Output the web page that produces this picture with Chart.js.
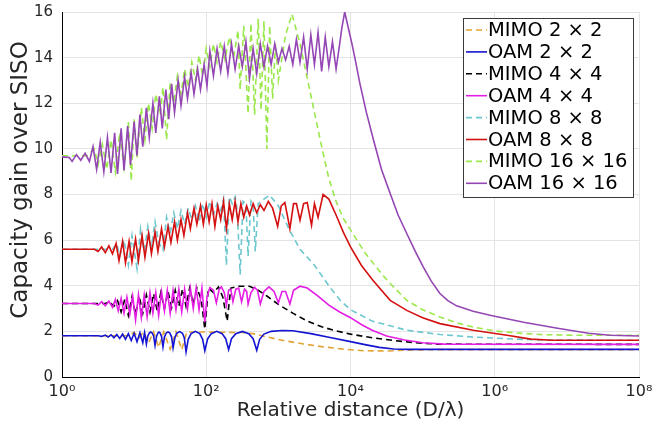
<!DOCTYPE html>
<html>
<head>
<meta charset="utf-8">
<script src="https://cdn.jsdelivr.net/npm/chart.js@4.4.1/dist/chart.umd.min.js"></script>
<style>
  html, body { margin: 0; padding: 0; background: #fff; }
  canvas { display: block; }
</style>
</head>
<body>
<canvas id="gainChart" width="652" height="433"></canvas>
<script>
// --- Data: [log10(D/lambda), capacity gain] ---
const xTickValues = [1, 1e2, 1e4, 1e6, 1e8];
const yTickStep = 2;

const mimo2x2 = [[0,1.81],[0.9,1.81],[0.95,1.88],[1.0,1.95],[1.07,1.72],[1.13,1.97],[1.2,1.5],[1.27,1.98],[1.34,1.3],[1.41,1.98],[1.5,1.22],[1.58,1.98],[1.66,1.2],[1.73,1.97],[2.0,1.97],[2.5,1.95],[2.65,1.9],[2.85,1.75],[3.1,1.58],[3.35,1.45],[3.6,1.33],[3.9,1.22],[4.2,1.15],[4.5,1.14],[4.8,1.18],[5.2,1.2],[8,1.2]];

const oam2x2 = [[0,1.81],[0.5,1.81],[0.55,1.78],[0.6,1.84],[0.64,1.75],[0.68,1.85],[0.72,1.72],[0.76,1.86],[0.8,1.69],[0.84,1.88],[0.88,1.65],[0.92,1.9],[0.96,1.6],[1.0,1.92],[1.04,1.55],[1.08,1.94],[1.12,1.5],[1.145,1.95],[1.17,1.45],
  [1.19,1.8],[1.21,1.93],[1.23,1.97],[1.25,1.93],[1.27,1.8],[1.29,1.38],
  [1.31,1.78],[1.33,1.93],[1.345,1.97],[1.36,1.93],[1.38,1.78],[1.40,1.32],
  [1.42,1.75],[1.445,1.93],[1.47,1.98],[1.495,1.93],[1.52,1.75],[1.54,1.28],
  [1.565,1.72],[1.59,1.92],[1.63,1.99],[1.67,1.92],[1.695,1.72],[1.72,1.1],
  [1.75,1.65],[1.79,1.9],[1.85,2.0],[1.91,1.9],[1.95,1.65],[1.98,1.15],
  [2.02,1.68],[2.07,1.9],[2.145,2.0],[2.22,1.9],[2.27,1.68],[2.31,1.2],
  [2.35,1.68],[2.41,1.9],[2.5,2.0],[2.59,1.9],[2.65,1.68],[2.70,1.17],
  [2.74,1.65],[2.8,1.88],[2.9,2.0],[3.05,2.04],[3.2,2.03],[3.45,1.9],[3.7,1.74],[4.0,1.55],[4.2,1.42],[4.4,1.3],[4.6,1.23],[4.8,1.21],[8,1.21]];

const mimo4x4 = [[0,3.22],[0.6,3.22],[0.66,3.3],[0.72,3.1],[0.77,3.35],[0.82,2.85],[0.87,3.4],[0.92,2.7],[0.97,3.5],[1.02,2.75],[1.07,3.55],[1.12,2.8],[1.17,3.6],[1.22,2.85],[1.27,3.65],[1.32,2.9],[1.37,3.7],[1.42,3.0],[1.47,3.75],[1.52,3.05],[1.57,3.8],[1.62,3.1],[1.67,3.85],[1.72,3.1],[1.77,3.9],[1.82,3.2],[1.87,3.9],[1.93,3.4],[1.98,2.1],[2.03,3.9],[2.1,3.7],[2.17,3.95],[2.23,3.5],[2.29,2.45],[2.34,3.9],[2.45,3.98],[2.6,3.98],[2.72,3.8],[2.84,3.55],[3.0,3.18],[3.2,2.8],[3.4,2.45],[3.6,2.2],[3.8,2.02],[4.0,1.88],[4.3,1.72],[4.6,1.6],[4.9,1.5],[5.2,1.44],[8,1.43]];

const oam4x4 = [[0,3.22],[0.45,3.22],[0.5,3.15],[0.55,3.3],[0.6,3.12],[0.65,3.32],[0.7,3.05],[0.74,3.4],[0.78,2.9],[0.82,3.45],[0.86,2.8],[0.9,3.5],[0.94,2.75],[0.98,3.55],[1.02,2.5],[1.06,3.6],[1.1,2.6],[1.14,3.6],[1.18,2.65],[1.22,3.7],[1.26,2.8],[1.3,3.7],[1.34,2.7],[1.38,3.75],[1.42,2.9],[1.46,3.8],[1.5,2.8],[1.54,3.8],[1.58,2.95],[1.62,3.85],[1.66,2.85],[1.7,3.85],[1.74,3.0],[1.78,3.9],[1.82,3.0],[1.86,3.9],[1.9,2.95],[1.94,3.9],[1.98,2.4],
  [2.01,3.5],[2.05,3.92],[2.1,3.8],[2.14,3.25],[2.18,3.85],[2.21,3.95],[2.25,3.7],[2.28,3.15],[2.31,3.8],[2.34,3.85],[2.37,3.3],[2.41,3.85],[2.45,3.9],[2.49,3.3],[2.53,3.85],[2.56,3.75],[2.58,3.2],[2.62,3.7],[2.67,3.93],[2.71,3.8],[2.75,3.2],[2.8,3.75],[2.87,3.95],[2.94,3.75],[3.0,3.25],[3.05,3.75],[3.1,3.75],[3.16,3.2],[3.21,3.8],[3.3,3.98],[3.4,3.9],[3.55,3.55],[3.7,3.15],[3.85,2.85],[4.0,2.6],[4.15,2.3],[4.3,2.05],[4.5,1.8],[4.75,1.62],[5.0,1.5],[5.3,1.44],[8,1.43]];

const mimo8x8 = [[0,5.6],[0.7,5.6],[0.76,5.85],[0.8,5.3],[0.86,6.0],[0.92,4.9],[0.97,6.2],[1.04,4.75],[1.09,6.5],[1.14,5.5],[1.19,6.6],[1.24,5.7],[1.29,6.8],[1.34,5.9],[1.4,5.56],[1.45,7.0],[1.5,6.3],[1.55,7.2],[1.6,6.5],[1.65,7.3],[1.7,6.7],[1.75,7.4],[1.8,6.9],[1.85,7.5],[1.9,6.8],[1.95,7.6],[2.0,7.0],[2.05,7.7],[2.1,7.1],[2.15,7.6],[2.2,7.3],[2.24,7.8],[2.28,4.9],[2.32,7.9],[2.36,7.6],[2.4,7.9],[2.43,7.3],[2.47,4.5],[2.51,7.7],[2.55,7.6],[2.58,5.3],[2.62,7.7],[2.65,7.5],[2.68,5.5],[2.72,7.6],[2.8,7.8],[2.88,7.97],[3.0,7.5],[3.16,6.4],[3.3,5.6],[3.5,4.9],[3.7,4.0],[3.86,3.35],[4.0,2.95],[4.3,2.45],[4.78,2.05],[5.24,1.86],[5.7,1.75],[6.17,1.68],[6.6,1.62],[8,1.61]];

const oam8x8 = [[0,5.6],[0.45,5.6],[0.5,5.5],[0.55,5.7],[0.6,5.45],[0.65,5.75],[0.7,5.4],[0.75,5.85],[0.79,5.1],[0.84,5.95],[0.88,5.0],[0.93,5.95],[0.97,5.05],[1.02,6.05],[1.06,5.1],[1.11,6.2],[1.15,5.25],[1.2,6.3],[1.24,5.4],[1.29,6.35],[1.33,5.5],[1.38,6.5],[1.42,5.7],[1.47,6.6],[1.51,5.9],[1.56,6.8],[1.6,6.0],[1.65,6.9],[1.69,6.2],[1.74,7.2],[1.78,6.5],[1.83,7.4],[1.87,6.7],[1.92,7.5],[1.96,6.7],[2.0,7.55],[2.04,6.8],[2.08,7.6],[2.12,6.6],[2.16,7.5],[2.2,6.9],[2.24,7.7],[2.28,6.5],[2.32,7.6],[2.36,6.9],[2.4,7.7],[2.44,6.8],[2.48,7.6],[2.52,7.0],[2.56,7.5],[2.6,7.1],[2.65,7.6],[2.7,7.2],[2.75,7.55],[2.8,7.3],[2.86,7.7],[2.92,7.4],[2.99,6.6],[3.04,7.5],[3.09,7.65],[3.16,6.5],[3.21,7.6],[3.25,7.6],[3.3,6.87],[3.35,7.6],[3.4,7.65],[3.46,6.65],[3.5,7.6],[3.55,7.0],[3.62,8.0],[3.7,7.8],[3.8,7.1],[3.9,6.35],[4.0,5.7],[4.15,4.9],[4.31,4.24],[4.55,3.36],[4.78,2.92],[5.0,2.6],[5.24,2.34],[5.7,2.05],[6.17,1.83],[6.5,1.66],[6.8,1.61],[8,1.61]];

const mimo16x16 = [[0,9.7],[0.35,9.7],[0.45,10.0],[0.5,9.3],[0.56,10.2],[0.62,9.1],[0.68,10.4],[0.74,9.0],[0.8,10.7],[0.86,9.2],[0.92,11.2],[0.96,8.6],[1.0,11.3],[1.04,9.6],[1.1,11.8],[1.15,10.4],[1.2,12.0],[1.25,10.9],[1.3,12.4],[1.36,11.5],[1.4,12.7],[1.45,10.4],[1.5,12.9],[1.55,12.0],[1.6,13.2],[1.65,12.4],[1.7,13.5],[1.75,12.7],[1.8,13.8],[1.85,13.0],[1.9,14.1],[1.95,13.2],[2.0,14.4],[2.05,13.6],[2.1,14.6],[2.15,13.8],[2.2,14.7],[2.26,13.9],[2.32,14.9],[2.38,14.0],[2.44,15.2],[2.47,12.6],[2.52,15.4],[2.58,11.55],[2.62,15.5],[2.67,11.5],[2.72,15.7],[2.76,11.7],[2.8,15.6],[2.84,10.0],[2.88,15.4],[2.92,12.2],[2.96,14.6],[3.0,13.0],[3.1,15.0],[3.19,15.9],
  [3.3,14.6],[3.4,13.1],[3.5,11.6],[3.6,10.1],[3.7,8.7],[3.8,7.7],[3.9,6.95],[4.0,6.45],[4.09,6.0],[4.2,5.45],[4.32,4.97],[4.45,4.45],[4.55,4.1],[4.78,3.36],[5.0,2.95],[5.24,2.63],[5.5,2.35],[5.7,2.19],[6.0,2.02],[6.3,1.93],[6.63,1.86],[7.1,1.83],[8,1.83]];

const oam16x16 = [[0,9.65],[0.1,9.62],[0.14,9.45],[0.2,9.75],[0.26,9.5],[0.32,9.8],[0.38,9.45],[0.43,10.1],[0.48,9.1],[0.53,10.3],[0.58,9.0],[0.63,10.5],[0.68,8.95],[0.73,10.7],[0.77,8.9],[0.82,10.9],[0.86,9.05],[0.91,11.0],[0.95,9.3],[1.0,11.2],[1.04,9.7],[1.08,11.5],[1.12,10.1],[1.17,11.8],[1.21,10.5],[1.26,12.0],[1.3,10.7],[1.35,12.3],[1.39,10.9],[1.44,12.6],[1.48,11.3],[1.52,12.85],[1.56,11.6],[1.61,13.0],[1.65,11.9],[1.7,13.15],[1.74,12.2],[1.79,13.35],[1.83,12.4],[1.88,13.5],[1.92,12.6],[1.97,13.7],[2.01,12.75],
  [2.05,14.3],[2.1,13.2],[2.15,14.4],[2.2,13.4],[2.25,14.5],[2.3,13.3],[2.35,14.6],[2.4,13.5],[2.45,14.5],[2.5,13.6],[2.55,14.7],[2.6,13.1],[2.65,14.4],[2.7,13.3],[2.75,14.6],[2.8,13.6],[2.85,14.5],[2.9,13.7],[2.95,14.6],[3.0,13.8],[3.05,14.4],[3.1,13.9],[3.15,14.5],[3.2,13.7],[3.25,14.8],[3.3,13.8],[3.35,14.9],[3.4,13.5],[3.45,15.0],[3.5,13.7],[3.55,15.1],[3.6,13.4],[3.65,14.9],[3.7,13.6],[3.75,14.7],[3.8,13.5],[3.85,14.6],
  [3.88,15.3],[3.92,16.0],[3.97,15.3],[4.02,14.6],[4.06,14.0],[4.13,12.87],[4.22,11.6],[4.32,10.38],[4.43,9.1],[4.55,8.04],[4.66,7.1],[4.78,6.29],[4.9,5.5],[5.01,4.82],[5.12,4.2],[5.24,3.66],[5.35,3.35],[5.47,3.12],[5.7,2.88],[5.95,2.7],[6.4,2.4],[6.85,2.15],[7.3,1.92],[7.6,1.83],[8,1.8]];

const seriesLabels = ['MIMO 2 × 2', 'OAM 2 × 2', 'MIMO 4 × 4', 'OAM 4 × 4', 'MIMO 8 × 8', 'OAM 8 × 8', 'MIMO 16 × 16', 'OAM 16 × 16'];
const seriesData = [mimo2x2, oam2x2, mimo4x4, oam4x4, mimo8x8, oam8x8, mimo16x16, oam16x16];

// styles kept apart from the data
const seriesColors = ['#e3a436', '#1414d2', '#000000', '#e41ee4', '#6cc7cf', '#d41010', '#9be84c', '#9446b4'];
const seriesDashed = [true, false, true, false, true, false, true, false];

const FONT = "'DejaVu Sans', sans-serif";
const SUP = { 0: '\u2070', 2: '\u00B2', 4: '\u2074', 6: '\u2076', 8: '\u2078' };

const datasets = seriesData.map((arr, i) => ({
    label: seriesLabels[i],
    data: arr.map(([e, v]) => ({ x: Math.pow(10, e), y: v })),
    borderColor: seriesColors[i],
    borderWidth: 1.6,
    borderDash: seriesDashed[i] ? [6, 4] : [],
    pointRadius: 0,
    tension: 0,
    fill: false,
    order: seriesData.length - i // later series drawn on top, like the original
}));

// --- Legend box inside the axes (top right) + y axis title ---
const legendBox = {
    id: 'legendBox',
    afterDatasetsDraw(chart) {
        const ctx = chart.ctx;
        const x0 = 463, y0 = 18, w = 170, h = 179;
        ctx.save();
        ctx.fillStyle = '#ffffff';
        ctx.fillRect(x0, y0, w, h);
        ctx.strokeStyle = '#3a3a3a';
        ctx.lineWidth = 1;
        ctx.strokeRect(x0 + 0.5, y0 + 0.5, w, h);
        ctx.font = '19.5px ' + FONT;
        ctx.textBaseline = 'middle';
        ctx.fillStyle = '#000';
        chart.data.datasets.forEach((ds, i) => {
            const cy = 30 + i * 21.9;
            ctx.beginPath();
            ctx.strokeStyle = ds.borderColor;
            ctx.lineWidth = 1.6;
            ctx.setLineDash(ds.borderDash.length ? [6, 4] : []);
            ctx.moveTo(466, cy);
            ctx.lineTo(487, cy);
            ctx.stroke();
            ctx.setLineDash([]);
            ctx.fillText(ds.label, 488, cy + 1);
        });
        ctx.restore();
    },
    afterDraw(chart) {
        // y title sits a bit above the axis centre in the original
        const ctx = chart.ctx;
        ctx.save();
        ctx.translate(21, 180);
        ctx.rotate(-Math.PI / 2);
        ctx.font = '23px ' + FONT;
        ctx.fillStyle = '#262626';
        ctx.textAlign = 'center';
        ctx.textBaseline = 'middle';
        ctx.fillText('Capacity gain over SISO', 0, 0);
        ctx.restore();
    }
};

const ctx = document.getElementById('gainChart').getContext('2d');
new Chart(ctx, {
    type: 'line',
    data: { datasets },
    options: {
        responsive: false,
        animation: false,
        layout: { padding: { top: 12, right: 13, left: 0, bottom: 0 } },
        scales: {
            x: {
                type: 'logarithmic',
                min: 1,
                max: 1e8,
                afterBuildTicks: scale => { scale.ticks = xTickValues.map(v => ({ value: v })); },
                afterFit: scale => {
                    scale.height = 56;
                    scale.paddingLeft = 0;
                    scale.paddingRight = 0;
                },
                ticks: {
                    autoSkip: false,
                    maxRotation: 0,
                    padding: 5,
                    color: '#262626',
                    font: { family: FONT, size: 16 },
                    callback: v => '10' + SUP[Math.round(Math.log10(v))]
                },
                grid: { color: '#e4e4e4', drawTicks: false },
                border: { color: '#000', width: 1 },
                title: {
                    display: true,
                    text: 'Relative distance (D/λ)',
                    color: '#262626',
                    font: { family: FONT, size: 20 },
                    padding: { top: 0, bottom: 10 }
                }
            },
            y: {
                min: 0,
                max: 16,
                afterFit: scale => {
                    scale.width = 62;
                    scale.paddingTop = 0;
                    scale.paddingBottom = 0;
                },
                ticks: {
                    stepSize: yTickStep,
                    padding: 9,
                    color: '#262626',
                    font: { family: FONT, size: 15 }
                },
                grid: { color: '#e4e4e4', drawTicks: false },
                border: { color: '#000', width: 1 }
            }
        },
        plugins: {
            legend: { display: false },
            tooltip: { enabled: false }
        }
    },
    plugins: [legendBox]
});
</script>
</body>
</html>
